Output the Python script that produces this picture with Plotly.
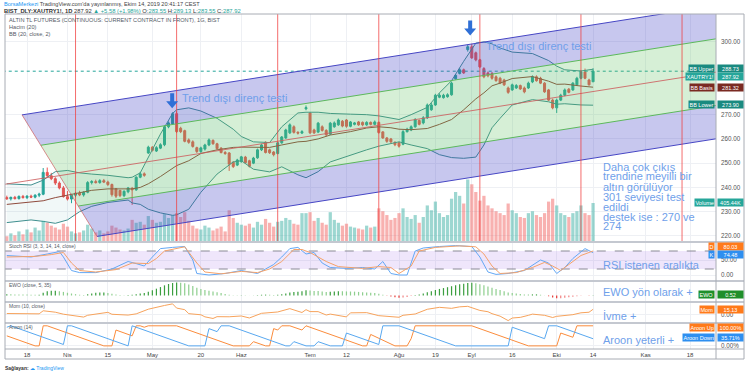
import plotly.graph_objects as go
import pandas as pd

# ---------------- data ----------------
holidays = ["2019-04-23", "2019-05-01", "2019-06-04", "2019-06-05", "2019-06-06",
            "2019-07-15", "2019-08-12", "2019-08-13", "2019-08-14", "2019-08-30",
            "2019-10-29"]
first_date = "2019-03-11"
last_axis_date = "2019-11-29"

opens = [235.8, 235.3, 235.9, 235.4, 236.3, 235.8, 236.4, 236.0, 236.8, 237.2,
         246.2, 244.8, 243.6, 241.8, 239.8, 236.2, 235.2, 236.8, 237.6, 236.9,
         238.0, 242.0, 242.4, 242.0, 242.8, 242.2, 241.2, 239.5, 238.8, 236.6,
         238.2, 239.6, 239.0, 244.2, 245.6, 254.2, 256.6, 255.0, 256.2, 257.6,
         265.0, 266.2, 270.4, 264.4, 263.4, 259.6, 258.8, 256.4, 254.8, 255.8,
         257.5, 259.4, 258.0, 256.2, 254.4, 254.2, 250.4, 249.2, 250.6, 252.5,
         251.0, 250.0, 252.2, 255.5, 258.6, 255.5, 254.6, 254.0, 258.4, 260.4,
         262.5, 265.0, 262.7, 262.4, 272.4, 270.7, 263.7, 262.8, 265.0, 263.5,
         262.0, 265.0, 265.8, 267.3, 267.8, 265.2, 266.0, 267.0, 266.8, 265.8,
         266.8, 266.0, 266.8, 262.9, 260.4, 260.0, 258.6, 258.4, 257.8, 263.0,
         263.7, 265.0, 267.6, 266.6, 268.7, 272.0, 274.0, 277.2, 277.0, 277.4,
         278.2, 284.8, 287.0, 288.5, 296.8, 298.0, 295.5, 292.6, 289.0, 287.2,
         287.0, 285.6, 285.0, 284.3, 281.0, 280.2, 281.0, 282.0, 281.0, 281.0,
         283.5, 285.6, 285.0, 283.0, 280.2, 276.0, 272.8, 276.0, 278.0, 280.5,
         280.2, 282.3, 285.0, 287.6, 284.3, 283.55]
closes = [235.3, 235.9, 235.4, 236.3, 235.8, 236.4, 236.0, 236.8, 237.2, 246.2,
          244.8, 243.6, 241.8, 239.8, 236.2, 235.2, 236.8, 237.6, 236.9, 238.0,
          242.0, 242.4, 242.0, 242.8, 242.2, 241.2, 237.0, 236.4, 236.6, 238.4,
          239.8, 239.0, 244.2, 245.6, 245.0, 256.6, 255.3, 256.4, 257.6, 265.0,
          266.6, 270.4, 263.0, 263.0, 259.0, 258.6, 256.9, 254.8, 256.3, 257.5,
          259.6, 258.0, 256.0, 254.4, 254.0, 249.6, 248.6, 251.3, 252.6, 250.2,
          248.7, 252.1, 255.5, 257.5, 254.4, 254.3, 253.5, 258.4, 260.8, 263.7,
          265.8, 262.7, 262.4, 263.0, 272.9, 262.5, 262.5, 266.5, 263.5, 261.7,
          266.5, 266.6, 267.8, 265.3, 265.2, 267.0, 266.6, 265.8, 265.8, 266.8,
          266.0, 267.0, 262.6, 260.4, 259.0, 258.8, 257.6, 257.0, 263.0, 264.0,
          265.0, 268.0, 266.0, 268.7, 274.0, 274.0, 278.0, 278.0, 278.0, 278.2,
          283.0, 286.2, 288.5, 287.2, 298.0, 293.4, 292.6, 289.7, 285.6, 286.0,
          285.0, 284.0, 283.0, 282.3, 279.2, 282.3, 282.0, 280.6, 279.4, 283.0,
          285.6, 284.0, 283.0, 279.4, 276.0, 272.8, 276.0, 278.0, 280.2, 279.2,
          283.0, 285.0, 287.6, 285.0, 282.3, 287.92]
highs = [236.6, 236.2, 236.5, 236.7, 236.9, 236.8, 237.0, 237.2, 237.8, 248.0,
         248.2, 246.0, 244.2, 242.5, 240.6, 238.5, 237.4, 238.2, 238.6, 238.4,
         242.6, 243.0, 243.2, 243.4, 243.5, 242.8, 241.6, 239.6, 238.8, 238.8,
         240.2, 240.2, 244.6, 246.4, 246.2, 257.2, 257.0, 257.0, 258.2, 265.6,
         267.2, 271.0, 271.4, 265.0, 263.8, 260.2, 259.4, 256.8, 256.8, 258.0,
         260.2, 259.8, 258.4, 256.6, 255.0, 254.6, 250.8, 251.8, 253.0, 253.0,
         251.4, 252.6, 256.0, 258.0, 259.0, 256.0, 255.0, 258.8, 261.2, 264.2,
         266.4, 265.6, 263.2, 263.6, 273.8, 271.0, 264.2, 267.0, 265.6, 264.0,
         267.0, 267.2, 268.4, 267.8, 268.2, 267.4, 267.0, 267.4, 267.2, 267.3,
         267.2, 267.6, 267.2, 263.2, 260.8, 260.4, 259.0, 258.8, 263.6, 264.6,
         265.6, 268.6, 268.0, 269.4, 274.6, 274.8, 278.6, 278.8, 278.6, 278.8,
         283.6, 286.8, 289.2, 289.0, 298.8, 299.2, 296.0, 293.0, 289.6, 287.8,
         287.6, 286.2, 285.6, 284.8, 281.6, 282.8, 282.6, 282.4, 281.6, 283.6,
         286.2, 286.2, 285.6, 283.4, 280.6, 276.6, 276.6, 278.6, 280.8, 281.0,
         283.4, 285.6, 288.2, 289.0, 284.8, 289.13]
lows = [234.9, 234.6, 235.0, 235.0, 235.4, 235.2, 235.6, 235.5, 236.0, 236.8,
        244.0, 243.0, 241.0, 239.2, 235.8, 234.6, 233.5, 236.0, 236.4, 236.2,
        237.6, 241.2, 241.6, 241.5, 241.8, 240.6, 236.2, 235.6, 236.0, 236.0,
        237.6, 232.8, 238.6, 243.8, 244.4, 253.8, 254.8, 254.6, 255.8, 257.0,
        264.4, 265.8, 262.4, 262.4, 258.6, 258.0, 256.4, 254.2, 254.2, 255.2,
        257.0, 257.6, 255.6, 254.0, 253.4, 246.8, 248.0, 248.8, 250.2, 249.8,
        248.2, 249.6, 251.8, 255.0, 254.0, 253.8, 252.8, 253.6, 258.0, 260.0,
        262.0, 262.2, 261.8, 262.0, 271.8, 262.0, 262.0, 262.4, 263.0, 261.0,
        261.6, 264.6, 265.4, 264.8, 264.6, 264.8, 265.6, 265.4, 265.2, 265.4,
        265.6, 265.6, 262.2, 260.0, 258.4, 258.2, 257.0, 256.4, 257.4, 262.6,
        263.2, 264.6, 265.6, 266.0, 268.2, 271.6, 273.6, 276.8, 276.6, 277.0,
        277.8, 284.4, 286.6, 286.8, 296.0, 293.0, 292.0, 289.2, 285.0, 285.4,
        284.4, 283.6, 282.6, 281.8, 278.6, 279.8, 280.6, 280.2, 278.8, 280.6,
        283.0, 283.6, 282.6, 279.0, 275.6, 272.2, 270.7, 275.6, 277.6, 278.8,
        279.8, 281.8, 284.6, 284.6, 282.0, 283.55]
volumes_k = [60, 90, 70, 110, 80, 130, 100, 150, 120, 220,
             200, 170, 150, 130, 190, 160, 110, 90, 100, 120,
             180, 140, 100, 120, 90, 110, 170, 150, 130, 120,
             140, 230, 200, 210, 180, 270, 230, 200, 210, 290,
             250, 280, 300, 260, 310, 220, 170, 140, 130, 170,
             150, 120, 140, 160, 110, 330, 250, 200, 180, 170,
             190, 150, 210, 180, 240, 200, 160, 210, 220, 250,
             230, 190, 180, 300, 300, 310, 220, 250, 200, 180,
             310, 230, 200, 170, 190, 160, 150, 140, 130, 170,
             150, 160, 350, 320, 280, 230, 250, 300, 350, 260,
             240, 280, 200, 260, 380, 330, 420, 300, 260, 280,
             450, 520, 480, 400, 650, 600, 520, 430, 480, 380,
             350, 320, 300, 280, 400, 330, 300, 260, 250, 300,
             320, 280, 260, 300, 420, 450, 380, 300, 280, 260,
             300, 320, 380, 300, 280, 405.44]

# Bollinger band readings (bar index, upper, basis, lower)
bb_i = [0, 6, 9, 12, 15, 18, 21, 25, 30, 31, 33, 35, 38, 41, 42, 45, 48, 52, 56, 58,
        61, 65, 68, 72, 74, 77, 80, 85, 89, 92, 95, 97, 100, 104, 107, 110, 113, 116,
        118, 120, 122, 125, 130, 134, 136, 138, 142, 145]
bb_upper = [241.5, 241.0, 243.0, 246.5, 247.0, 246.0, 245.5, 245.0, 244.0, 244.2, 246.0,
            252.6, 262.0, 270.5, 272.0, 272.8, 271.5, 268.5, 264.0, 261.0, 258.8, 258.5,
            265.0, 270.7, 271.0, 271.0, 270.5, 270.2, 270.0, 269.5, 268.5, 268.0, 270.0,
            273.0, 279.0, 284.0, 292.0, 299.5, 300.0, 299.2, 297.5, 295.8, 295.2, 292.3,
            290.0, 288.5, 288.0, 288.73]
bb_basis = [233.0, 233.8, 234.5, 235.8, 236.8, 238.0, 238.8, 239.4, 239.4, 239.4, 240.0,
            241.5, 244.5, 248.0, 249.0, 251.0, 254.0, 255.5, 256.5, 256.6, 256.5, 256.5,
            257.5, 258.8, 259.0, 260.0, 261.6, 263.0, 264.5, 265.0, 264.6, 264.0, 263.8,
            264.3, 266.0, 268.0, 272.0, 276.5, 279.0, 281.9, 283.0, 284.9, 285.7, 283.8,
            282.5, 282.6, 281.8, 281.32]
bb_lower = [225.5, 226.6, 226.0, 225.2, 226.6, 230.0, 232.2, 233.8, 234.8, 233.6, 233.0,
            231.0, 229.5, 228.5, 228.7, 231.0, 238.0, 245.5, 250.5, 251.0, 247.5, 246.4,
            248.5, 245.2, 244.0, 246.5, 250.5, 253.4, 255.5, 257.0, 258.2, 258.8, 257.5,
            256.0, 253.5, 252.3, 252.0, 252.5, 257.5, 264.6, 268.5, 274.0, 276.2, 275.3,
            274.3, 274.5, 274.0, 273.90]

stoch_k_i = [0, 6, 10, 13, 14, 16, 18, 22, 26, 30, 32, 34, 36, 38, 41, 44, 46, 47, 50, 54, 58,
             62, 64, 66, 68, 70, 72, 74, 76, 78, 80, 84, 88, 91, 93, 95, 97, 99, 101, 103, 107,
             111, 115, 117, 119, 121, 124, 128, 132, 134, 136, 138, 140, 143, 145]
stoch_k = [65, 60, 70, 78, 60, 15, 8, 8, 20, 45, 38, 30, 60, 88, 92, 95, 50, 5, 0, 5, 15,
           5, 20, 35, 60, 88, 92, 70, 75, 40, 25, 22, 25, 20, 45, 5, 0, 0, 80, 90, 95,
           98, 95, 60, 10, 2, 5, 15, 50, 40, 5, 25, 55, 88, 74.48]
stoch_d_i = [0, 7, 11, 14, 16, 18, 22, 27, 31, 35, 37, 39, 44, 47, 49, 53, 58, 62, 65, 68, 71,
             73, 75, 79, 82, 88, 92, 95, 97, 100, 102, 106, 112, 116, 118, 120, 122, 126, 130,
             133, 135, 137, 139, 142, 145]
stoch_d = [60, 62, 68, 75, 40, 15, 10, 18, 40, 38, 55, 80, 94, 40, 10, 4, 12, 8, 20, 45, 85,
           85, 75, 45, 28, 22, 28, 25, 5, 30, 80, 92, 97, 94, 70, 30, 5, 8, 25, 42, 30, 15, 35,
           65, 80.03]

ewo = [2.0, 1.9, 1.8, 1.7, 1.6, 1.5, 1.4, 1.3, 1.3, 4.5,
       7.0, 7.6, 7.6, 7.0, 5.8, 4.4, 3.2, 2.2, 1.2, 1.0,
       2.2, 3.4, 4.4, 5.0, 5.0, 4.2, 2.8, 1.6, 0.8, 0.4,
       0.6, 1.2, 2.2, 3.2, 4.0, 6.2, 8.6, 11.0, 13.6, 16.4,
       18.6, 20.2, 21.0, 20.6, 19.6, 17.6, 15.2, 12.6, 10.4, 8.8,
       7.6, 6.6, 5.4, 4.0, 2.6, 1.2, 0.4, 0.2, 0.3, 0.2,
       0.1, 0.2, 0.6, 1.2, 1.4, 1.2, 1.0, 1.4, 2.2, 3.4,
       5.0, 5.8, 6.2, 6.8, 8.6, 8.2, 7.4, 7.2, 6.6, 5.8,
       6.2, 6.6, 7.0, 6.8, 6.6, 6.4, 6.2, 5.8, 5.4, 5.0,
       4.6, 4.2, 3.0, 1.4, -0.4, -1.8, -3.0, -3.8, -3.4, -2.4,
       -1.0, 0.6, 1.8, 3.2, 5.2, 7.0, 9.0, 10.6, 12.0, 13.4,
       15.0, 16.6, 18.0, 18.8, 20.2, 20.4, 19.6, 18.2, 16.6, 14.6,
       12.6, 10.6, 8.8, 7.0, 5.0, 4.0, 3.2, 2.4, 1.8, 1.6,
       1.8, 1.8, 1.2, 0.2, -1.4, -3.4, -4.6, -4.6, -3.8, -3.0,
       -2.2, -1.2, -0.4, -0.2, -0.6, 0.52]

mom_i = [0, 8, 9, 10, 12, 14, 15, 19, 20, 23, 25, 26, 28, 30, 32, 35, 39, 41, 42, 44, 45,
         48, 49, 51, 52, 55, 58, 60, 63, 65, 67, 70, 73, 74, 75, 77, 79, 80, 84, 85, 89, 92,
         95, 97, 98, 101, 104, 107, 110, 112, 114, 115, 117, 119, 120, 122, 124, 125, 127,
         129, 130, 133, 135, 136, 138, 140, 142, 143, 144, 145]
mom = [2.5, 1.5, 10.7, 9.5, 6.4, 0.4, -1.2, -8.2, -2.8, 3.0, 6.0, 0.2, -0.3, -2.2, 1.4,
       15.4, 26.6, 31.4, 18.8, 14.0, 2.0, -1.3, -7.5, -12.4, -7.0, -7.3, -4.9, -10.9, 3.1,
       4.7, 7.1, 17.1, 5.5, 14.0, 8.2, 8.1, -2.0, 0.7, -7.7, 4.5, 5.1, -4.0, -6.4, -8.8,
       -2.8, 1.0, 15.2, 21.0, 18.0, 22.5, 24.0, 19.4, 11.7, 7.8, 2.0, -5.5, -18.8, -11.1,
       -9.1, -3.0, 0.6, -2.9, -9.5, -6.0, -2.8, -1.0, 4.6, 5.6, 6.3, 15.13]

aroon_up_i = [0, 7, 8, 9, 10, 24, 26, 27, 31, 32, 33, 34, 35, 42, 56, 60, 61, 64, 65, 66,
              67, 68, 70, 73, 74, 88, 89, 90, 96, 99, 100, 101, 115, 129, 136, 137, 140, 141, 145]
aroon_up = [50, 0, 0, 100, 100, 0, 0, 79, 50, 100, 100, 93, 100, 100, 0, 0, 21, 0, 0, 86,
            79, 100, 100, 79, 100, 0, 0, 57, 0, 0, 36, 100, 100, 0, 0, 64, 43, 100, 100]
aroon_dn_i = [0, 1, 14, 15, 16, 30, 31, 45, 49, 50, 52, 53, 55, 69, 70, 71, 74, 76, 77, 80,
              83, 84, 92, 93, 97, 111, 124, 125, 133, 134, 136, 145]
aroon_dn = [93, 100, 7, 100, 100, 0, 100, 0, 0, 86, 71, 100, 100, 0, 0, 21, 0, 0, 21, 0,
            0, 64, 7, 100, 100, 0, 0, 93, 36, 100, 100, 35.71]

tick_dates = ["2019-03-18", "2019-04-01", "2019-04-15", "2019-05-02", "2019-05-20", "2019-06-03",
              "2019-07-01", "2019-07-12", "2019-08-01", "2019-08-19", "2019-09-02", "2019-09-16",
              "2019-10-01", "2019-10-14", "2019-11-01", "2019-11-18"]
tick_text = ["18", "Nis", "15", "May", "20", "Haz", "Tem", "12", "Ağu", "19", "Eyl", "16",
             "Eki", "14", "Kas", "18"]
price_ticks = [220, 230, 240, 250, 260, 270, 300]   # 280 / 290 hidden behind the value labels

# drawings: pitchfork anchor points (bar index, price), cycle lines, icons, notes
fork_i = [-2.0, 3.76, 22.3]
fork_p = [240.9, 269.9, 219.8]
cycle_start = 17
cycle_period = 25
arrow_i = [40.9, 114.6]
arrow_price = [275.5, 305.5]
note_i = [42.8, 117.9]
note_price = [276.9, 298.4]

# ---------------- helpers ----------------
dates = [d for d in pd.bdate_range(first_date, last_axis_date) if d.strftime("%Y-%m-%d") not in holidays]
date_idx = {d.strftime("%Y-%m-%d"): k for k, d in enumerate(dates)}
tick_vals = [date_idx[d] for d in tick_dates]
n = len(closes)
xs = list(range(n))

PX_L, PX_R, PX_T, PX_B = 5, 716, 14, 349
def px(xp):
    return (xp - PX_L) / (PX_R - PX_L)
def py(yp):
    return (PX_B - yp) / (PX_B - PX_T)

UP = "#26a69a"
DN = "#ef5350"
up_flags = [c >= o for o, c in zip(opens, closes)]

fig = go.Figure()

fig.add_trace(go.Bar(x=xs, y=[v * 1000 for v in volumes_k], yaxis="y2",
                     marker=dict(color=["rgba(38,166,154,0.45)" if u else "rgba(239,83,80,0.45)" for u in up_flags],
                                 line=dict(width=0)),
                     hoverinfo="skip", showlegend=False))
fig.add_trace(go.Scatter(x=bb_i, y=bb_upper, mode="lines", line=dict(color="#3f8f8f", width=1),
                         showlegend=False, hoverinfo="skip"))
fig.add_trace(go.Scatter(x=bb_i, y=bb_lower, mode="lines", line=dict(color="#3f8f8f", width=1),
                         fill="tonexty", fillcolor="rgba(25,135,135,0.06)", showlegend=False, hoverinfo="skip"))
fig.add_trace(go.Scatter(x=bb_i, y=bb_basis, mode="lines", line=dict(color="#8f4a3c", width=1),
                         showlegend=False, hoverinfo="skip"))
fig.add_trace(go.Candlestick(x=xs, open=opens, high=highs, low=lows, close=closes,
                             increasing=dict(line=dict(color=UP, width=1), fillcolor=UP),
                             decreasing=dict(line=dict(color=DN, width=1), fillcolor=DN),
                             whiskerwidth=0, showlegend=False, hoverinfo="skip"))
fig.add_trace(go.Scatter(x=[-1, 180], y=[closes[-1], closes[-1]], mode="lines",
                         line=dict(color=UP, width=1, dash="dot"), showlegend=False, hoverinfo="skip"))

fig.add_trace(go.Scatter(x=[-1, 180], y=[80, 80], yaxis="y3", mode="lines",
                         line=dict(color="#8a8a95", width=1, dash="dash"), showlegend=False, hoverinfo="skip"))
fig.add_trace(go.Scatter(x=[-1, 180], y=[20, 20], yaxis="y3", mode="lines",
                         line=dict(color="#8a8a95", width=1, dash="dash"), fill="tonexty",
                         fillcolor="rgba(150,90,230,0.15)", showlegend=False, hoverinfo="skip"))
fig.add_trace(go.Scatter(x=stoch_k_i, y=stoch_k, yaxis="y3", mode="lines",
                         line=dict(color="#64a8f5", width=1), showlegend=False, hoverinfo="skip"))
fig.add_trace(go.Scatter(x=stoch_d_i, y=stoch_d, yaxis="y3", mode="lines",
                         line=dict(color="#f5a26a", width=1), showlegend=False, hoverinfo="skip"))

ewo_cols = []
for k, v in enumerate(ewo):
    rising = k == 0 or v >= ewo[k - 1]
    if v >= 0:
        ewo_cols.append("#3c9f40" if rising else "#8fcf8f")
    else:
        ewo_cols.append("#f08080" if rising else "#e53935")
fig.add_trace(go.Bar(x=xs, y=ewo, yaxis="y4", width=0.3,
                     marker=dict(color=ewo_cols, line=dict(width=0)), showlegend=False, hoverinfo="skip"))
fig.add_trace(go.Scatter(x=mom_i, y=mom, yaxis="y5", mode="lines",
                         line=dict(color="#f7a35c", width=1), showlegend=False, hoverinfo="skip"))
fig.add_trace(go.Scatter(x=aroon_up_i, y=aroon_up, yaxis="y6", mode="lines",
                         line=dict(color="#fb8c3c", width=1), showlegend=False, hoverinfo="skip"))
fig.add_trace(go.Scatter(x=aroon_dn_i, y=aroon_dn, yaxis="y6", mode="lines",
                         line=dict(color="#58a8f0", width=1), showlegend=False, hoverinfo="skip"))

# ---------------- drawings ----------------
shapes = []
(p1i, p2i, p3i), (p1p, p2p, p3p) = fork_i, fork_p
mid_i, mid_p = (p2i + p3i) / 2, (p2p + p3p) / 2
slope = (mid_p - p1p) / (mid_i - p1i)
right_i = 178
def seg_point(t):  # point on P2-P3 segment, t=0 at P2, t=1 at P3
    return p2i + (p3i - p2i) * t, p2p + (p3p - p2p) * t
def line_to_right(t):
    a, b = seg_point(t)
    return (a, b), (right_i, b + slope * (right_i - a))
def band(t1, t2, color):
    (a1, b1), (c1, d1) = line_to_right(t1)
    (a2, b2), (c2, d2) = line_to_right(t2)
    path = f"M {a1},{b1} L {c1},{d1} L {c2},{d2} L {a2},{b2} Z"
    shapes.append(dict(type="path", xref="x", yref="y", path=path, fillcolor=color,
                       line=dict(width=0), layer="above"))
BLUE_F = "rgba(70,70,200,0.30)"
GREEN_F = "rgba(90,190,90,0.25)"
band(0.0, 0.25, BLUE_F)
band(0.25, 0.75, GREEN_F)
band(0.75, 1.0, BLUE_F)
for t, col in [(0.0, "#4646c4"), (0.25, "#5cb85c"), (0.75, "#5cb85c"), (1.0, "#4646c4")]:
    (a, b), (c, d) = line_to_right(t)
    shapes.append(dict(type="line", xref="x", yref="y", x0=a, y0=b, x1=c, y1=d,
                       line=dict(color=col, width=1), layer="above"))
shapes.append(dict(type="line", xref="x", yref="y", x0=p1i, y0=p1p, x1=right_i,
                   y1=p1p + slope * (right_i - p1i), line=dict(color="rgba(205,95,95,0.85)", width=1),
                   layer="above"))
shapes.append(dict(type="line", xref="x", yref="y", x0=p2i, y0=p2p, x1=p3i, y1=p3p,
                   line=dict(color="rgba(205,95,95,0.7)", width=1), layer="above"))
k = cycle_start
while k < 176:
    shapes.append(dict(type="line", xref="x", yref="paper", x0=k, x1=k, y0=py(242), y1=1,
                       line=dict(color="rgba(240,60,60,0.75)", width=1), layer="above"))
    k += cycle_period
for ai, ap in zip(arrow_i, arrow_price):
    shapes.append(dict(type="path", xref="x", yref="y", xsizemode="pixel", ysizemode="pixel",
                       xanchor=ai, yanchor=ap,
                       path="M -2,8 L 2,8 L 2,0 L 6,0 L 0,-7 L -6,0 L -2,0 Z",
                       fillcolor="#2f6fd6", line=dict(width=0), layer="above"))

for yp in [242, 281, 302, 323]:
    shapes.append(dict(type="line", xref="paper", yref="paper", x0=0, x1=px(744), y0=py(yp), y1=py(yp),
                       line=dict(color="#c4c8d0", width=2), layer="above"))
shapes.append(dict(type="rect", xref="paper", yref="paper", x0=0, x1=px(744), y0=py(359), y1=1,
                   line=dict(color="#a8acb4", width=1)))
shapes.append(dict(type="line", xref="paper", yref="paper", x0=1, x1=1, y0=py(359), y1=1,
                   line=dict(color="#a8acb4", width=1)))
shapes.append(dict(type="line", xref="paper", yref="paper", x0=0, x1=px(744), y0=0, y1=0,
                   line=dict(color="#a8acb4", width=1)))

# ---------------- annotations ----------------
ann = []
TXT = "#6f9fea"
FONT = "Liberation Sans"
for ni, npz in zip(note_i, note_price):
    ann.append(dict(x=ni, y=npz, xref="x", yref="y", text="Trend dışı direnç testi", showarrow=False,
                    xanchor="left", yanchor="middle", font=dict(family=FONT, size=11, color=TXT)))
side_lines = ["Daha çok çıkış", "trendine meyilli bir", "altın görülüyor", "301 seviyesi test",
              "edildi", "destek ise : 270 ve", "274"]
for k2, t in enumerate(side_lines):
    ann.append(dict(x=px(601), y=py(166.5 + k2 * 10.0), xref="paper", yref="paper", text=t, showarrow=False,
                    xanchor="left", yanchor="middle", font=dict(family=FONT, size=11, color=TXT)))
for t, yp in [("RSI istenen aralıkta", 265), ("EWO yön olarak +", 292), ("İvme +", 316),
              ("Aroon yeterli +", 340)]:
    ann.append(dict(x=px(601), y=py(yp), xref="paper", yref="paper", text=t, showarrow=False,
                    xanchor="left", yanchor="middle", font=dict(family=FONT, size=11, color=TXT)))

def label(name, value, yp, col):
    if name:
        ann.append(dict(x=px(715), y=py(yp), xref="paper", yref="paper", text=name, showarrow=False,
                        xanchor="right", yanchor="middle", bgcolor=col,
                        font=dict(size=5.5, color="white", family=FONT), borderpad=0.5))
    ann.append(dict(x=px(717), y=py(yp), xref="paper", yref="paper", text=value, showarrow=False,
                    xanchor="left", yanchor="middle", bgcolor=col, width=24, align="center",
                    font=dict(size=5.5, color="white", family=FONT), borderpad=0.5))
label("BB Upper", "288.73", 68.5, "#1a8a80")
label("XAUTRY1!", "287.92", 76.5, "#26a69a")
label("BB Basis", "281.32", 87.5, "#7a2a22")
label("BB Lower", "273.90", 104.5, "#1a8a80")
label("Volume", "405.44K", 203, "#26a69a")
label("D", "80.03", 246.5, "#ff7a1a")
label("K", "74.48", 254.5, "#2e8ff0")
label("EWO", "0.52", 294, "#1f8f2a")
label("Mom", "15.13", 309, "#ff7a1a")
label("Aroon Up", "100.00%", 327, "#ff7a1a")
label("Aroon Down", "35.71%", 337.5, "#2e8ff0")

GR = "#555b66"
for t, yp in [("ALTIN TL FUTURES (CONTINUOUS: CURRENT CONTRACT IN FRONT), 1G, BIST", 19.5),
              ("Hacim (20)", 26.5), ("BB (20, close, 2)", 33.5)]:
    ann.append(dict(x=px(7), y=py(yp), xref="paper", yref="paper", xanchor="left", yanchor="middle",
                    showarrow=False, text=t, font=dict(size=5.6, color=GR, family=FONT)))
for t, yp in [("Stoch RSI (3, 3, 14, 14, close)", 246), ("EWO (close, 5, 35)", 285),
              ("Mom (10, close)", 306), ("Aroon (14)", 327)]:
    ann.append(dict(x=px(7), y=py(yp), xref="paper", yref="paper", xanchor="left", yanchor="middle",
                    showarrow=False, text=t, font=dict(size=5, color=GR, family=FONT)))
ann.append(dict(x=px(2), y=py(4.5), xref="paper", yref="paper", xanchor="left", yanchor="middle", showarrow=False,
                text="<span style='color:#2196f3'>BorsaMerkezi</span> TradingView.com'da yayınlanmış, Ekim 14, 2019 20:41:17 CEST",
                font=dict(size=5.6, color="#444", family=FONT)))
ann.append(dict(x=px(2), y=py(11), xref="paper", yref="paper", xanchor="left", yanchor="middle", showarrow=False,
                text="<b>BIST_DLY:XAUTRY1!, 1D</b> 287.92 <span style='color:#26a69a'>▲ +5.58 (+1.98%)</span> "
                     "O:<span style='color:#26a69a'>283.55</span> H:<span style='color:#26a69a'>289.13</span> "
                     "L:<span style='color:#26a69a'>283.55</span> C:<span style='color:#26a69a'>287.92</span>",
                font=dict(size=5.8, color="#333", family=FONT)))
ann.append(dict(x=px(3), y=py(368), xref="paper", yref="paper", xanchor="left", yanchor="middle", showarrow=False,
                text="<b>Sağlayan:</b> <span style='color:#2196f3'>☁ TradingView</span>",
                font=dict(size=5, color="#333", family=FONT)))

# ---------------- layout ----------------
GRID = "#eef0f4"
TF = dict(size=6.3, color="#555", family=FONT)
YC = dict(side="right", zeroline=False, tickfont=TF, ticks="", ticklabelstandoff=4, automargin=False)
fig.update_layout(
    width=745, height=375, margin=dict(l=5, r=29, t=14, b=26, autoexpand=False),
    paper_bgcolor="white", plot_bgcolor="white", showlegend=False, bargap=0.2,
    xaxis=dict(range=[-0.445, 175.4], tickvals=tick_vals, ticktext=tick_text, showgrid=True, gridcolor=GRID,
               zeroline=False, anchor="y6", tickfont=dict(size=6, color="#444", family=FONT), ticks="",
               ticklabelstandoff=1, rangeslider=dict(visible=False), showline=False, automargin=False),
    yaxis=dict(domain=[py(242), 1], range=[217.5, 311.5], tickvals=price_ticks,
               tickformat=".2f", showgrid=True, gridcolor=GRID, **YC),
    yaxis2=dict(overlaying="y", range=[0, 2.37e6], visible=False),
    yaxis3=dict(domain=[py(281), py(242)], range=[-20, 110], tickvals=[0, 50], tickformat=".2f",
                showgrid=True, gridcolor=GRID, anchor="x", **YC),
    yaxis4=dict(domain=[py(302), py(281)], range=[-10.5, 23.4], showticklabels=False,
                showgrid=False, anchor="x", **YC),
    yaxis5=dict(domain=[py(323), py(302)], range=[-26, 37], tickvals=[0], ticktext=["0.00"],
                showgrid=True, gridcolor=GRID, anchor="x", **YC),
    yaxis6=dict(domain=[0, py(323)], range=[-15.5, 114], tickvals=[0], ticktext=["0.00%"],
                showgrid=True, gridcolor=GRID, anchor="x", **YC),
    shapes=shapes, annotations=ann,
)
fig.write_html("out.html", config={"staticPlot": True},
               post_script="document.body.style.margin='0';document.body.style.overflow='hidden';")
